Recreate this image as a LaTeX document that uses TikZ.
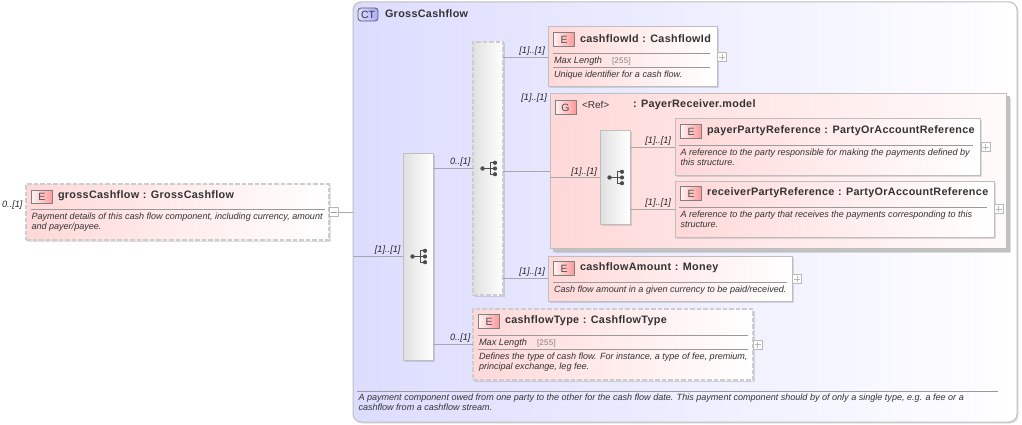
\documentclass[tikz,border=0pt]{standalone}
\usepackage{fontspec}
\setmainfont{Liberation Sans}
\newfontfamily\ttlfont[LetterSpace=3]{Liberation Sans}
\usetikzlibrary{shadows,calc}
\definecolor{elpink}{HTML}{FFD8D8}
\definecolor{ctblue}{HTML}{DCDCFF}
\definecolor{bordr}{HTML}{BEBEBE}
\definecolor{dashc}{HTML}{CDCDCD}
\definecolor{sepc}{HTML}{9A9A9A}
\definecolor{linec}{HTML}{A8A8A8}
\definecolor{txt}{HTML}{333333}
\tikzset{
  x=1pt,y=-1pt,
  every node/.style={inner sep=0pt,outer sep=0pt},
  softshadow/.style={drop shadow={shadow xshift=1.5pt,shadow yshift=-1.5pt,fill=black,opacity=0.12}},
  plainbox/.style={rectangle,draw=bordr,line width=1pt},
  solidel/.style={plainbox,softshadow,left color=elpink,right color=white},
  dashel/.style={solidel,dash pattern=on 4.5pt off 2pt,draw=dashc,line width=1.2pt},
  seqbox/.style={plainbox,softshadow,left color=black!12,right color=white},
  dashseq/.style={seqbox,dash pattern=on 4.5pt off 2pt,draw=dashc,line width=1.2pt},
  ctbox/.style={rectangle,rounded corners=8pt,draw=bordr,line width=1pt,softshadow,left color=ctblue,right color=white},
  grpbox/.style={plainbox,left color=elpink,right color=white!88!elpink},
  icon/.style={rectangle,draw=black!50,line width=.8pt,left color=white!70!elpink,right color=red!30!elpink,font=\fontsize{10.5}{10.5}\selectfont,text=black!70},
  cticon/.style={rectangle,rounded corners=3pt,draw=black!65,line width=.8pt,left color=ctblue,right color=blue!22!ctblue,font=\fontsize{10.5}{10.5}\selectfont,text=black!80},
  ttl/.style={anchor=west,font=\ttlfont\bfseries\fontsize{10.8}{10.8}\selectfont,text=txt},
  dsc/.style={anchor=north west,align=left,font=\itshape\fontsize{9.05}{10}\selectfont,text=txt},
  mxl/.style={anchor=west,font=\itshape\fontsize{9.2}{10}\selectfont,text=txt},
  mxv/.style={anchor=west,font=\ttlfont\fontsize{8}{10}\selectfont,text=black!50},
  card/.style={anchor=east,font=\itshape\fontsize{9.2}{10}\selectfont,text=black!85},
  conn/.style={draw=linec,line width=.9pt},
  sep/.style={draw=sepc,line width=.8pt},
  expbox/.style={rectangle,draw=black!28,fill=white,line width=.7pt,minimum width=9pt,minimum height=9pt},
}
\newcommand{\bx}[6]{\node[#6,minimum width={(#4)-(#2)},minimum height={(#5)-(#3)}] (#1) at ({((#2)+(#4))/2},{((#3)+(#5))/2}) {};}
\newcommand{\icn}[4]{\node[icon,minimum width=21pt,minimum height=13.5pt] (#1) at (#2,#3) {#4};}
\newcommand{\seqicn}[1]{%
  \fill[black!70] ([xshift=-5.5pt]#1.center) circle (2.2pt);
  \foreach \dy in {-5.7,0,5.7} \fill[black!70] ([xshift=7pt,yshift=\dy pt]#1.center) circle (2.1pt);
  \draw[black!70,line width=.8pt] ([xshift=-5.5pt]#1.center) -- ([xshift=7pt]#1.center)
    ([xshift=2pt,yshift=5.7pt]#1.center) -- ([xshift=2pt,yshift=-5.7pt]#1.center)
    ([xshift=2pt,yshift=5.7pt]#1.center) -- ([xshift=7pt,yshift=5.7pt]#1.center)
    ([xshift=2pt,yshift=-5.7pt]#1.center) -- ([xshift=7pt,yshift=-5.7pt]#1.center);}
\newcommand{\expd}[3]{\node[expbox] (#1) at (#2,#3) {};
  \draw[black!28,line width=.7pt] ([xshift=-3pt]#1.center) -- ([xshift=3pt]#1.center) ([yshift=-3pt]#1.center) -- ([yshift=3pt]#1.center);}
\newcommand{\expm}[3]{\node[expbox] (#1) at (#2,#3) {};
  \draw[black!40,line width=.7pt] ([xshift=-3pt]#1.center) -- ([xshift=3pt]#1.center);}
\begin{document}
\begin{tikzpicture}
\useasboundingbox (0,0) rectangle (1022,425);
% complex type frame
\bx{ct}{353}{2}{1017}{422}{ctbox}
\node[cticon,minimum width=20pt,minimum height=13pt] (cti) at (368,14.5) {CT};
\node[ttl] (ctt) at (385,13.5) {GrossCashflow};
% root element
\bx{root}{26}{184}{329}{240}{dashel}
\icn{rooti}{42}{197}{E}
\node[ttl] (roott) at (58,195.5) {grossCashflow\,\,: GrossCashflow};
\draw[sep] (31,209) -- (325,209);
\node[dsc] (rootd) at (31.5,212.5) {Payment details of this cash flow component, including currency, amount\\and payer/payee.};
\expm{rootx}{334}{212}
\node[card] (rootc) at (22.5,205) {0..[1]};
\draw[conn] (rootx.east) -- (ct.west |- rootx.east);
% sequences
\bx{seqa}{403}{153}{433}{360}{seqbox}
\bx{seqb}{473}{42}{503}{295}{dashseq}
\seqicn{seqa}
\seqicn{seqb}
% cashflowId
\bx{idb}{548}{27}{717}{87}{solidel}
\icn{idi}{564}{39.5}{E}
\node[ttl] (idt) at (580,38.5) {cashflowId\,\,: CashflowId};
\draw[sep] (553,53) -- (710,53) (553,67) -- (710,67);
\node[mxl] (idm) at (554,61) {Max Length};
\node[mxv] (idv) at (612,61) {[255]};
\node[dsc] (idd) at (554,70.5) {Unique identifier for a cash flow.};
\expd{idx}{722}{57}
% group
\bx{grpb}{553}{97}{1009}{251}{plainbox,fill=black!24,softshadow}
\bx{grp}{550}{94}{1006}{248}{grpbox}
\node[icon,minimum width=21pt,minimum height=13.5pt] (grpi) at (565.5,107.5) {G};
\node[anchor=west,font=\fontsize{10}{10}\selectfont,text=txt] (grpr) at (582,105) {<Ref>};
\node[ttl] (grpt) at (633,105) {: PayerReceiver.model};
\bx{seqc}{600}{131}{630}{224}{seqbox}
\seqicn{seqc}
% payer
\bx{pay}{675}{119}{980}{175}{solidel}
\icn{payi}{691}{131.5}{E}
\node[ttl] (payt) at (707,130.5) {payerPartyReference\,\,: PartyOrAccountReference};
\draw[sep] (679,145) -- (973,145);
\node[dsc] (payd) at (680.5,148.5) {A reference to the party responsible for making the payments defined by\\this structure.};
\expd{payx}{985.5}{147}
% receiver
\bx{rcv}{675}{181}{994}{237}{solidel}
\icn{rcvi}{691}{193.5}{E}
\node[ttl] (rcvt) at (707,192.5) {receiverPartyReference\,\,: PartyOrAccountReference};
\draw[sep] (679,207) -- (987,207);
\node[dsc] (rcvd) at (680.5,210.5) {A reference to the party that receives the payments corresponding to this\\structure.};
\expd{rcvx}{998.5}{209}
% amount
\bx{amt}{548}{256}{792}{301}{solidel}
\icn{amti}{564}{268.5}{E}
\node[ttl] (amtt) at (580,267.5) {cashflowAmount\,\,: Money};
\draw[sep] (553,282) -- (787,282);
\node[dsc] (amtd) at (554,285.5) {Cash flow amount in a given currency to be paid/received.};
\expd{amtx}{797}{279}
% type
\bx{typ}{473}{309}{753}{380}{dashel}
\icn{typi}{489}{321.5}{E}
\node[ttl] (typt) at (505,320.5) {cashflowType\,\,: CashflowType};
\draw[sep] (478,335) -- (748,335) (478,349) -- (748,349);
\node[mxl] (typm) at (479,343) {Max Length};
\node[mxv] (typv) at (537,343) {[255]};
\node[dsc] (typd) at (479,352.5) {Defines the type of cash flow. For instance, a type of fee, premium,\\principal exchange, leg fee.};
\expd{typx}{757.5}{344.5}
% connectors
\draw[conn] (ct.west |- seqa.west) -- (seqa.west);
\draw[conn] (seqa.east |- seqb.west) -- (seqb.west);
\draw[conn] (seqa.east |- typ.west) -- (typ.west);
\draw[conn] (seqb.east |- idb.west) -- (idb.west);
\draw[conn] (seqb.east |- grp.west) -- (grp.west);
\draw[conn] (seqb.east |- amt.west) -- (amt.west);
\draw[conn] (grp.west |- seqc.west) -- (seqc.west);
\draw[conn] (seqc.east |- pay.west) -- (pay.west);
\draw[conn] (seqc.east |- rcv.west) -- (rcv.west);
% cardinalities
\node[card] (c1) at (400.5,250.5) {[1]..[1]};
\node[card] (c2) at (470.5,162) {0..[1]};
\node[card] (c3) at (470.5,338.5) {0..[1]};
\node[card] (c4) at (545,51) {[1]..[1]};
\node[card] (c5) at (547,98) {[1]..[1]};
\node[card] (c6) at (545,272) {[1]..[1]};
\node[card] (c7) at (597,172) {[1]..[1]};
\node[card] (c8) at (671,141) {[1]..[1]};
\node[card] (c9) at (671,203) {[1]..[1]};
% footer
\draw[sep] (357,391) -- (998,391);
\node[dsc] (ctd) at (358.5,393.5) {A payment component owed from one party to the other for the cash flow date. This payment component should by of only a single type, e.g. a fee or a\\cashflow from a cashflow stream.};
\end{tikzpicture}
\end{document}
